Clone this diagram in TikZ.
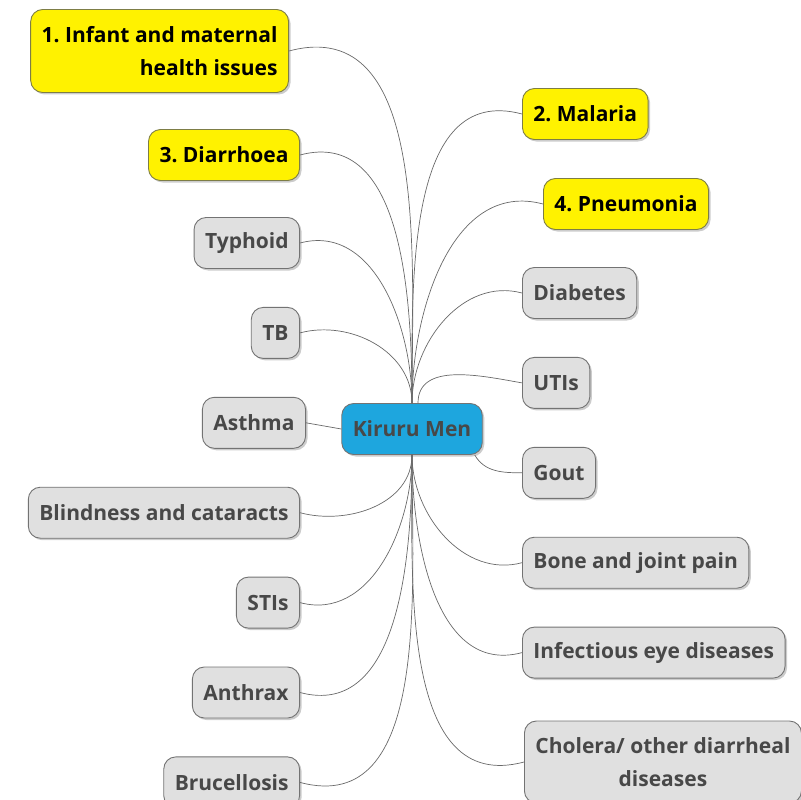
\documentclass[tikz,border=0pt]{standalone}
\usepackage{fontspec}
\setmainfont{Open Sans}
\usetikzlibrary{positioning,shadows}
\definecolor{hubblue}{RGB}{30,166,222}
\definecolor{leafgray}{RGB}{224,224,224}
\definecolor{linegray}{RGB}{105,105,105}
\definecolor{textgray}{RGB}{72,72,72}
\definecolor{prioedge}{RGB}{125,125,70}
\frenchspacing

\begin{document}
\begin{tikzpicture}[x=1pt,y=1pt,node distance=38pt and 10pt,font=\fontsize{21}{33}\selectfont\bfseries]
\tikzstyle{box}=[rectangle, rounded corners=12pt, line width=0.9pt, minimum height=51pt, inner xsep=11pt, drop shadow={shadow xshift=2pt, shadow yshift=-2pt, opacity=0.4}]
\tikzstyle{leaf}=[box, fill=leafgray, draw=black!55, text=textgray]
\tikzstyle{prio}=[box, fill=yellow, draw=prioedge, text=black]
\tikzstyle{hub}=[box, fill=hubblue, draw=black!55, text=textgray]
\tikzstyle{link}=[draw=linegray, line width=0.7pt]
\useasboundingbox (0,-800) rectangle (801,0);
% centre
\node[hub] (men) at (412,-429) {Kiruru Men};
% left column
\node[prio, anchor=east, align=right, minimum height=83pt] (infant) at (289,-51) {1. Infant and maternal\\health issues};
\node[prio, anchor=east] (diarrhoea) at (300,-155) {3. Diarrhoea};
\node[leaf, anchor=east] (typhoid) at (300,-243) {Typhoid};
\node[leaf, below=of typhoid.south east, anchor=north east] (tb) {TB};
\node[leaf, below=of tb.south east, anchor=north east, xshift=6pt] (asthma) {Asthma};
\node[leaf, below=of asthma.south east, anchor=north east, xshift=-6pt] (blind) {Blindness and cataracts};
\node[leaf, below=of blind.south east, anchor=north east] (stis) {STIs};
\node[leaf, below=of stis.south east, anchor=north east] (anthrax) {Anthrax};
\node[leaf, below=of anthrax.south east, anchor=north east] (bruc) {Brucellosis};
% right column
\node[prio, anchor=west] (malaria) at (522,-114) {2. Malaria};
\node[prio, anchor=west] (pneu) at (543,-204) {4. Pneumonia};
\node[leaf, anchor=west] (diabetes) at (522,-293) {Diabetes};
\node[leaf, below=of diabetes.south west, anchor=north west] (utis) {UTIs};
\node[leaf, below=of utis.south west, anchor=north west] (gout) {Gout};
\node[leaf, below=of gout.south west, anchor=north west] (bone) {Bone and joint pain};
\node[leaf, below=of bone.south west, anchor=north west] (eye) {Infectious eye diseases};
\node[leaf, below=42pt of eye.south west, anchor=north west, xshift=2pt, align=center, minimum height=82pt] (cholera) {Cholera/ other diarrheal\\diseases};
% links
\foreach \n in {infant,diarrhoea,typhoid,tb}
  \draw[link] (\n.east) to[out=15,in=90] (men.north);
\foreach \n in {malaria,pneu,diabetes}
  \draw[link] (\n.west) to[out=165,in=90] (men.north);
\draw[link] (utis.west) to[out=170,in=90] ([xshift=6pt]men.north);
\draw[link] (asthma.east) -- (men.west);
\draw[link] ([xshift=-8pt]men.south east) to[out=-60,in=180] (gout.west);
\foreach \n in {blind,stis,anthrax,bruc}
  \draw[link] (\n.east) to[out=-15,in=-90] (men.south);
\foreach \n in {bone,eye,cholera}
  \draw[link] (\n.west) to[out=195,in=-90] (men.south);
\end{tikzpicture}
\end{document}
